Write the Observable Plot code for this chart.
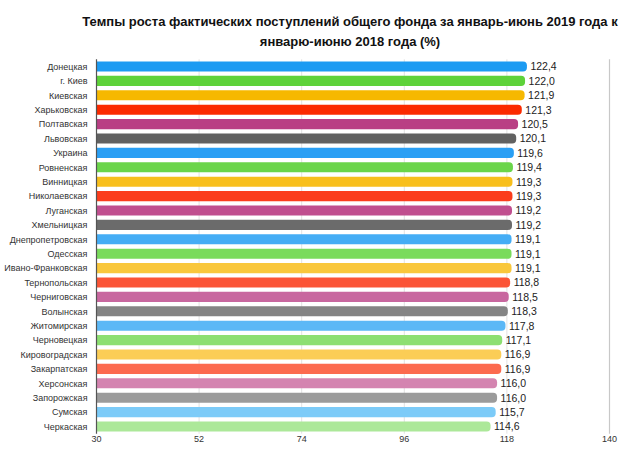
<!DOCTYPE html>
<html>
<head>
<meta charset="utf-8">
<script src="https://cdn.jsdelivr.net/npm/d3@7"></script>
<script src="https://cdn.jsdelivr.net/npm/@observablehq/plot@0.6"></script>
<style>
  html, body { margin: 0; padding: 0; background: #fff; }
  body { width: 624px; font-family: "Liberation Sans", Arial, Helvetica, sans-serif; }
  #title { height: 52px; box-sizing: border-box; padding: 12px 0 0 76px; text-align: center; white-space: nowrap;
           font-weight: bold; font-size: 13px; line-height: 20px; color: #111; }
  #chart svg { display: block; }
</style>
</head>
<body>
<div id="title">Темпы роста фактических поступлений общего фонда за январь-июнь 2019 года к<br>январю-июню 2018 года (%)</div>
<div id="chart"></div>
<script>
const regions = ["Донецкая","г. Киев","Киевская","Харьковская","Полтавская","Львовская","Украина","Ровненская","Винницкая","Николаевская","Луганская","Хмельницкая","Днепропетровская","Одесская","Ивано-Франковская","Тернопольская","Черниговская","Волынская","Житомирская","Черновецкая","Кировоградская","Закарпатская","Херсонская","Запорожская","Сумская","Черкаская"];
const values = [122.4,122.0,121.9,121.3,120.5,120.1,119.6,119.4,119.3,119.3,119.2,119.2,119.1,119.1,119.1,118.8,118.5,118.3,117.8,117.1,116.9,116.9,116.0,116.0,115.7,114.6];
const xTicks = [30,52,74,96,118,140];
const highlight = "Украина";

const palette = [
  "#1c9bf2","#5ed23a","#f6b800","#fb2a00","#b93f84","#616161",
  "#2a9ff4","#6bd54a","#f8bf1c","#fb3d1c","#c04f8f","#6b6b6b",
  "#45adf5","#7adb5c","#f9c73c","#fb5436","#c8679f","#848484",
  "#5cb8f6","#8ddf72","#fbcd56","#fc6a4f","#d484b0","#9b9b9b",
  "#7ccbf8","#ace899"
];

const data = regions.map((r, i) => ({region: r, value: values[i]}));
const fmt = v => v.toFixed(1).replace(".", ",");

const chart = Plot.plot({
  width: 624,
  height: 396,
  marginLeft: 96,
  marginRight: 15,
  marginTop: 7.3,
  marginBottom: 14.3,
  style: {fontFamily: "'Liberation Sans', Arial, Helvetica, sans-serif", fontSize: "9px", color: "#333", background: "#fff"},
  x: {domain: [30, 140], ticks: xTicks, tickSize: 0, tickPadding: 1, label: null, tickFormat: d => String(d)},
  y: {domain: regions, round: false, paddingInner: 0.3, paddingOuter: 0.15, label: null, tickSize: 0, tickPadding: 9},
  color: {domain: regions, range: palette},
  marks: [
    Plot.ruleX(xTicks.slice(1, -1), {stroke: "#e2e2e2", strokeWidth: 1}),
    Plot.ruleX([140], {stroke: "#c8c8c8", strokeWidth: 1.2}),
    Plot.barX(data, {y: "region", x1: 30, x2: "value", fill: "region", rx: 4, insetLeft: -8, clip: true}),
    Plot.ruleX([30], {stroke: "#555", strokeWidth: 1.2}),
    Plot.text(data, {y: "region", x: "value", text: d => fmt(d.value), textAnchor: "start", dx: 3,
      fontSize: 10.5, fill: "#222", fontWeight: d => d.region === highlight ? "bold" : "normal"})
  ]
});
document.getElementById("chart").appendChild(chart);
</script>
</body>
</html>
